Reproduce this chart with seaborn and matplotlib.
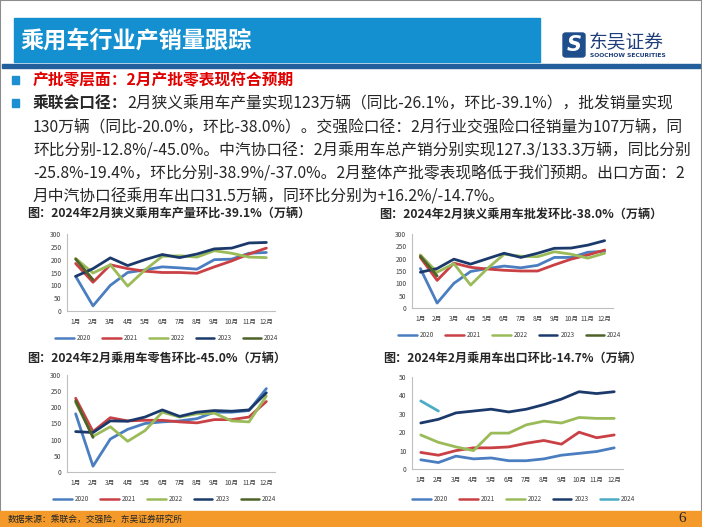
import numpy as np
import pandas as pd
import seaborn as sns
import matplotlib.pyplot as plt
from matplotlib.patches import Rectangle, FancyBboxPatch
from matplotlib.lines import Line2D

sns.set_style('white')
plt.rcParams['font.family'] = ['Noto Sans CJK SC', 'DejaVu Sans']

months = [f'{i}月' for i in range(1, 13)]
years = ['2020', '2021', '2022', '2023', '2024']

# 狭义乘用车产量（万辆）
prod_2020 = [135, 20, 100, 150, 160, 172, 168, 163, 200, 202, 225, 228]
prod_2021 = [185, 112, 180, 165, 155, 150, 150, 147, 172, 195, 222, 245]
prod_2022 = [205, 148, 180, 97, 160, 213, 215, 210, 235, 225, 210, 208]
prod_2023 = [135, 165, 207, 177, 200, 220, 208, 222, 242, 245, 265, 267]
prod_2024 = [202, 122]

# 狭义乘用车批发
whole_2020 = [160, 20, 100, 148, 160, 170, 163, 173, 205, 205, 226, 230]
whole_2021 = [205, 112, 182, 165, 158, 153, 150, 150, 175, 198, 215, 235]
whole_2022 = [215, 145, 180, 93, 160, 218, 210, 208, 228, 218, 202, 222]
whole_2023 = [145, 160, 198, 178, 200, 222, 205, 222, 242, 243, 255, 273]
whole_2024 = [210, 130]

# 乘用车零售
retail_2020 = [180, 18, 102, 132, 150, 155, 158, 165, 185, 185, 190, 258]
retail_2021 = [228, 125, 168, 158, 160, 160, 155, 152, 162, 162, 170, 218]
retail_2022 = [215, 110, 140, 95, 128, 185, 170, 180, 182, 158, 155, 235]
retail_2023 = [125, 122, 158, 157, 170, 192, 172, 185, 190, 188, 192, 245]
retail_2024 = [220, 107]

# 乘用车出口
export_2020 = [5, 3.5, 7, 5.5, 6, 4.5, 4.5, 5.5, 7.5, 8.5, 9.5, 11.5]
export_2021 = [9, 7.5, 10, 11.5, 11.5, 12, 14, 15.5, 13.5, 20, 17, 18.5]
export_2022 = [18.5, 14.5, 12, 10, 19.5, 19.5, 24, 26, 25, 28, 27.5, 27.5]
export_2023 = [25, 27, 30.5, 31.5, 32.5, 31, 32.5, 35, 38, 42, 41, 42]
export_2024 = [37, 31.5]

colors_a = {'2020': '#4A7EC0', '2021': '#C94045', '2022': '#9BBB59',
            '2023': '#1B3A6B', '2024': '#4F6228'}
colors_b = dict(colors_a, **{'2024': '#4BACC6'})

W, H = 702, 527
fig = plt.figure(figsize=(W / 100, H / 100), dpi=100)


def fx(x):
    return x / W


def fy(y):
    return 1 - y / H


def box(x0, y0, x1, y1):
    return [x0 / W, 1 - y1 / H, (x1 - x0) / W, (y1 - y0) / H]


# 边框、标题栏
fig.patches.append(Rectangle((0, 0), 1, 1, transform=fig.transFigure,
                             fill=False, edgecolor='#8C8C8C', lw=1.5))
fig.patches.append(Rectangle((fx(14), fy(62)), (540 - 14) / W, 44 / H,
                             transform=fig.transFigure, color='#1490D0'))
fig.patches.append(Rectangle((fx(2), fy(68)), (700 - 2) / W, 4 / H,
                             transform=fig.transFigure, color='#23609B'))
fig.text(fx(20), fy(41), '乘用车行业产销量跟踪', color='white', fontsize=16.7,
         fontweight='bold', va='center')

# logo
fig.patches.append(FancyBboxPatch((fx(563), fy(57)), 22 / W, 24 / H,
                                  boxstyle='round,pad=0,rounding_size=0.004',
                                  transform=fig.transFigure, color='#1F4E8C'))
fig.text(fx(574), fy(45), 'S', color='white', fontsize=15, fontweight='bold',
         style='italic', ha='center', va='center', family='DejaVu Sans')
fig.text(fx(589), fy(43), '东吴证券', color='#1D3E7A', fontsize=13.5, va='center')
fig.text(fx(590), fy(56), 'SOOCHOW SECURITIES', color='#1D3E7A', fontsize=4.3,
         fontweight='bold', va='center', family='DejaVu Sans')

# 正文
for yb in (80, 103):
    fig.patches.append(Rectangle((fx(12), fy(yb + 4)), 7 / W, 8 / H,
                                 transform=fig.transFigure, color='#1E90D2'))

fs = 11.35
fig.text(fx(33), fy(80), '产批零层面：2月产批零表现符合预期', color='#E00000',
         fontsize=fs, fontweight='bold', va='center')
bold = fig.text(fx(33), fy(103), '乘联会口径：', fontsize=fs, fontweight='bold',
                va='center')
renderer = fig.canvas.get_renderer()
bb = bold.get_window_extent(renderer)
fig.text(bb.x1 / W, fy(103), '2月狭义乘用车产量实现123万辆（同比-26.1%，环比-39.1%），批发销量实现',
         fontsize=fs, va='center')
body = [
    '130万辆（同比-20.0%，环比-38.0%）。交强险口径：2月行业交强险口径销量为107万辆，同',
    '环比分别-12.8%/-45.0%。中汽协口径：2月乘用车总产销分别实现127.3/133.3万辆，同比分别',
    '-25.8%-19.4%，环比分别-38.9%/-37.0%。2月整体产批零表现略低于我们预期。出口方面：2',
    '月中汽协口径乘用车出口31.5万辆，同环比分别为+16.2%/-14.7%。',
]
for i, line in enumerate(body):
    fig.text(fx(33), fy(127 + i * 23), line, fontsize=fs, va='center')

# 图标题
tfs = 8.7
fig.text(fx(27), fy(214), '图：2024年2月狭义乘用车产量环比-39.1%（万辆）',
         fontsize=tfs, fontweight='bold', va='center')
fig.text(fx(379), fy(214), '图：2024年2月狭义乘用车批发环比-38.0%（万辆）',
         fontsize=tfs, fontweight='bold', va='center')
fig.text(fx(27), fy(358), '图：2024年2月乘用车零售环比-45.0%（万辆）',
         fontsize=tfs, fontweight='bold', va='center')
fig.text(fx(383), fy(358), '图：2024年2月乘用车出口环比-14.7%（万辆）',
         fontsize=tfs, fontweight='bold', va='center')


def draw_chart(rect, data, colors, yticks, leg_xy):
    ax = fig.add_axes(box(*rect))
    rows = []
    for yr, vals in zip(years, data):
        for i, v in enumerate(vals):
            rows.append({'month': i, 'value': v, 'year': yr})
    df = pd.DataFrame(rows)
    sns.lineplot(data=df, x='month', y='value', hue='year', palette=colors,
                 linewidth=2.0, ax=ax, legend=False, errorbar=None)
    ax.set_xlim(-0.5, 11.5)
    ax.set_ylim(yticks[0], yticks[-1])
    ax.set_xticks(range(12))
    ax.set_xticklabels(months)
    ax.set_yticks(yticks)
    ax.set_xlabel('')
    ax.set_ylabel('')
    for s in ('top', 'right'):
        ax.spines[s].set_visible(False)
    for s in ('left', 'bottom'):
        ax.spines[s].set_color('#BFBFBF')
        ax.spines[s].set_linewidth(0.8)
    ax.tick_params(axis='x', length=0, pad=5, labelsize=4.8, labelcolor='#404040')
    ax.tick_params(axis='y', length=0, pad=4, labelsize=4.8, labelcolor='#404040')
    ax.set_facecolor('none')
    handles = [Line2D([0], [0], color=colors[y], lw=1.8) for y in years]
    fig.legend(handles, years, loc='center', bbox_to_anchor=(fx(leg_xy[0]), fy(leg_xy[1])),
               ncol=5, frameon=False, fontsize=4.6, handlelength=2.9,
               handletextpad=0.5, columnspacing=1.7, labelcolor='#404040')
    return ax


draw_chart((67, 234, 275, 311),
           [prod_2020, prod_2021, prod_2022, prod_2023, prod_2024],
           colors_a, [0, 50, 100, 150, 200, 250, 300], (167, 338))
draw_chart((412, 234, 613, 308),
           [whole_2020, whole_2021, whole_2022, whole_2023, whole_2024],
           colors_a, [0, 50, 100, 150, 200, 250, 300], (510, 335))
draw_chart((67, 375, 275, 472),
           [retail_2020, retail_2021, retail_2022, retail_2023, retail_2024],
           colors_a, [0, 50, 100, 150, 200, 250, 300], (165, 499))
draw_chart((412, 377, 623, 469),
           [export_2020, export_2021, export_2022, export_2023, export_2024],
           colors_b, [0, 10, 20, 30, 40, 50], (524, 499))

# 页脚
fig.patches.append(Rectangle((0, 0), 1, 16 / H, transform=fig.transFigure,
                             color='#F39A2B'))
fig.text(fx(8), fy(519), '数据来源：乘联会，交强险，东吴证券研究所', fontsize=6.3,
         va='center')
fig.text(fx(682), fy(518), '6', fontsize=11, va='center', ha='center',
         family='Liberation Serif')

fig.savefig('out.png', dpi=100)
